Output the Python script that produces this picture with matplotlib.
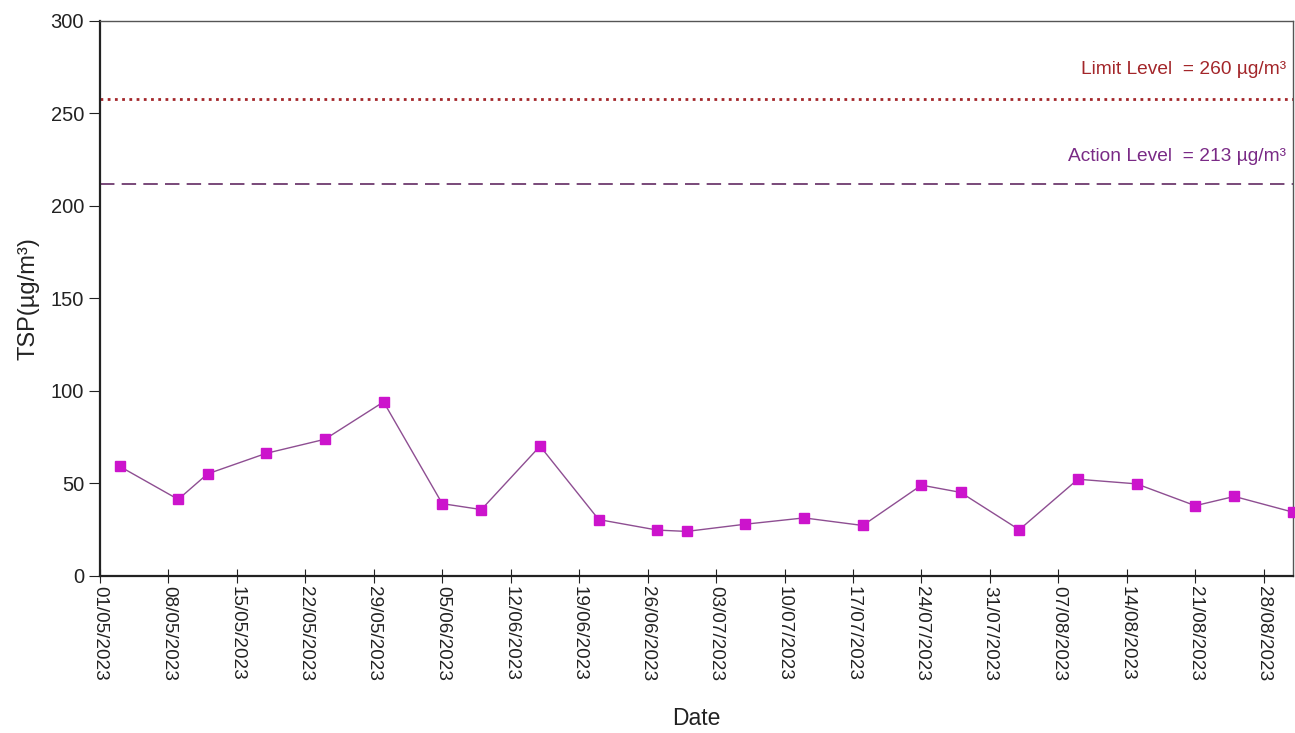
import matplotlib
matplotlib.use("Agg")
import matplotlib.pyplot as plt
import matplotlib.dates as mdates
import numpy as np
import pandas as pd

plt.rcParams["font.family"] = ["Liberation Sans", "DejaVu Sans"]

dates = ["2023-05-03", "2023-05-09", "2023-05-12", "2023-05-18", "2023-05-24",
         "2023-05-30", "2023-06-05", "2023-06-09", "2023-06-15", "2023-06-21",
         "2023-06-27", "2023-06-30", "2023-07-06", "2023-07-12", "2023-07-18",
         "2023-07-24", "2023-07-28", "2023-08-03", "2023-08-09", "2023-08-15",
         "2023-08-21", "2023-08-25", "2023-08-31"]
tsp = [59.3, 41.4, 55.2, 66.3, 73.9, 94.1, 39.1, 35.9, 70.2, 30.5,
       24.8, 24.1, 28.0, 31.4, 27.3, 49.1, 45.2, 25.0, 52.3, 49.8,
       38.0, 43.0, 34.5]

limit_line = 258
action_line = 212
limit_text = "Limit Level  = 260 µg/m³"
action_text = "Action Level  = 213 µg/m³"

x_start = pd.Timestamp("2023-05-01")
x_end = pd.Timestamp("2023-08-31")

x = pd.to_datetime(dates)

fig = plt.figure(figsize=(12.95, 7.33), dpi=100)
axe = fig.add_axes([0.0772, 0.2142, 0.9213, 0.7572])

axe.axhline(limit_line, color="#A3262A", lw=2.0, ls=(0, (1, 1.6)))
axe.axhline(action_line, color="#6E3A6E", lw=1.3, ls=(0, (8, 4)))

axe.plot(x, tsp, color="#8E4E92", lw=1.0, marker="s", markersize=7.5,
         markerfacecolor="#CC14CC", markeredgecolor="#CC14CC", clip_on=False,
         zorder=3)

axe.text(0.9945, 0.912, limit_text, transform=axe.transAxes, ha="right",
         va="center", fontsize=13.8, color="#A3262A")
axe.text(0.9945, 0.755, action_text, transform=axe.transAxes, ha="right",
         va="center", fontsize=13.8, color="#7A2A86")

axe.set_xlim(x_start, x_end)
axe.set_ylim(0, 300)
axe.set_yticks(np.arange(0, 301, 50))
ticks = pd.date_range(x_start, x_end, freq="7D")
axe.set_xticks(ticks)
axe.xaxis.set_major_formatter(mdates.DateFormatter("%d/%m/%Y"))
plt.setp(axe.get_xticklabels(), rotation=270, ha="center", va="top")

axe.tick_params(axis="x", direction="inout", length=10, labelsize=13.6,
                colors="#222222", pad=2)
axe.tick_params(axis="y", direction="out", length=8, labelsize=14.5,
                colors="#222222")

for s in ["left", "bottom"]:
    axe.spines[s].set_linewidth(1.6)
    axe.spines[s].set_color("#222222")
for s in ["top", "right"]:
    axe.spines[s].set_linewidth(1.0)
    axe.spines[s].set_color("#555555")

axe.set_ylabel("TSP(µg/m³)", fontsize=17, color="#222222", labelpad=8)
axe.set_xlabel("Date", fontsize=16.5, color="#222222", labelpad=19)

fig.savefig("out.png", dpi=100)
